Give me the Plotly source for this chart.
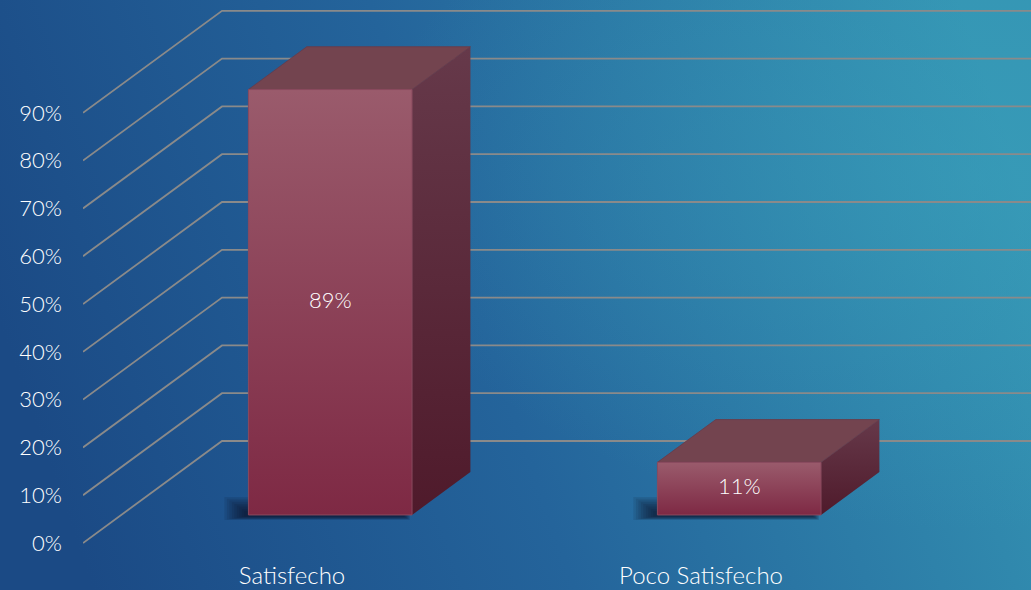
import base64
import plotly.graph_objects as go

# ---- data ----
categories = ["Satisfecho", "Poco Satisfecho"]
values = [89, 11]
value_labels = ["89%", "11%"]
tick_values = [0, 10, 20, 30, 40, 50, 60, 70, 80, 90]
tick_labels = ["0%", "10%", "20%", "30%", "40%", "50%", "60%", "70%", "80%", "90%"]

# ---- geometry (oblique projection in data units) ----
W, H = 1031, 590
ML, MB = 83, 32
PX_X = 409.0          # px per category unit
X0 = 292.0            # px of category 0 at front plane
PX_Y = 4.78           # px per percent
Y0 = 543.0            # px of 0% on front plane
DX = 139.0 / PX_X     # depth shift (x units) for full depth
DY = 102.0 / PX_Y     # depth shift (y units) for full depth
HALF = 0.2
D1, D2 = 0.275, 0.695

plot_h = H - MB
x_rng = [(ML - X0) / PX_X, (W - X0) / PX_X]
y_rng = [(Y0 - plot_h) / PX_Y, Y0 / PX_Y]
x_wall_front = x_rng[0]
x_wall_back = x_wall_front + DX

font = "Lato, 'Open Sans', sans-serif"

fig = go.Figure()

# gridlines (front wall -> back wall -> right edge)
gx, gy = [], []
for v in tick_values:
    gx += [x_wall_front, x_wall_back, x_rng[1] + 0.05, None]
    gy += [v, v + DY, v + DY, None]
fig.add_trace(go.Scatter(x=gx, y=gy, mode="lines", line=dict(color="#8a8a8a", width=1.8),
                         hoverinfo="skip", showlegend=False, cliponaxis=False))

for i, (cat, v) in enumerate(zip(categories, values)):
    xl, xr = i - HALF, i + HALF
    base = D1 * DY
    fxl = xl + D1 * DX
    fxr = xr + D1 * DX
    # soft shadow at the front-left bottom edge (many faint layers)
    n = 9
    for k in range(n):
        t = k / (n - 1)
        left_px = 24 - 20 * t
        drop_px = 5.0 - 3.5 * t
        top_px = 18 - 14 * t
        right_px = 2 + 6 * t
        sx = [fxl - left_px / PX_X, fxr - right_px / PX_X, fxr - right_px / PX_X, fxl - left_px / PX_X]
        sy = [base - drop_px / PX_Y, base - drop_px / PX_Y, base + top_px / PX_Y, base + top_px / PX_Y]
        fig.add_trace(go.Scatter(x=sx + [sx[0]], y=sy + [sy[0]], fill="toself", mode="lines",
                                 line=dict(width=0), fillcolor="rgba(6,14,26,0.10)",
                                 hoverinfo="skip", showlegend=False))
    # side face
    fx = [xr + D1 * DX, xr + D2 * DX, xr + D2 * DX, xr + D1 * DX, xr + D1 * DX]
    fy = [D1 * DY, D2 * DY, v + D2 * DY, v + D1 * DY, D1 * DY]
    fig.add_trace(go.Scatter(x=fx, y=fy, fill="toself", mode="lines", line=dict(width=0),
                             fillgradient=dict(type="vertical",
                                               colorscale=[[0, "#4f1a2b"], [1, "#66394a"]],
                                               start=D1 * DY, stop=v + D2 * DY),
                             hoverinfo="skip", showlegend=False))
    # top face
    tx = [xl + D1 * DX, xr + D1 * DX, xr + D2 * DX, xl + D2 * DX, xl + D1 * DX]
    ty = [v + D1 * DY, v + D1 * DY, v + D2 * DY, v + D2 * DY, v + D1 * DY]
    fig.add_trace(go.Scatter(x=tx, y=ty, fill="toself", mode="lines",
                             line=dict(width=0.8, color="#6a3a48"), fillcolor="#73444f",
                             hoverinfo="skip", showlegend=False))
    # front face
    bx = [fxl, fxr, fxr, fxl, fxl]
    by = [base, base, v + base, v + base, base]
    fig.add_trace(go.Scatter(x=bx, y=by, fill="toself", mode="lines",
                             line=dict(width=1, color="#8a4a5e"),
                             fillgradient=dict(type="vertical",
                                               colorscale=[[0, "#7e2944"], [1, "#9a5b6c"]],
                                               start=base, stop=v + base),
                             hoverinfo="skip", showlegend=False))

# value labels
fig.add_trace(go.Scatter(x=[i + D1 * DX for i in range(len(values))],
                         y=[v / 2 + D1 * DY for v in values],
                         text=value_labels, mode="text",
                         textfont=dict(color="#ffffff", size=22, family=font, weight=300),
                         hoverinfo="skip", showlegend=False))

# background gradient
svg = f'''<svg xmlns="http://www.w3.org/2000/svg" width="{W}" height="{H}" viewBox="0 0 {W} {H}" preserveAspectRatio="none">
<defs>
<linearGradient id="g" x1="0" y1="0.55" x2="1" y2="0.35">
<stop offset="0" stop-color="#1b4a85"/>
<stop offset="0.45" stop-color="#24649b"/>
<stop offset="1" stop-color="#3494b3"/>
</linearGradient>
<radialGradient id="r" cx="0.95" cy="0.3" r="0.6">
<stop offset="0" stop-color="#3aa0bb" stop-opacity="0.5"/>
<stop offset="1" stop-color="#3aa0bb" stop-opacity="0"/>
</radialGradient>
</defs>
<rect width="{W}" height="{H}" fill="url(#g)"/>
<rect width="{W}" height="{H}" fill="url(#r)"/>
</svg>'''
src = "data:image/svg+xml;base64," + base64.b64encode(svg.encode()).decode()
plot_w = W - ML
fig.add_layout_image(dict(source=src, xref="paper", yref="paper",
                          x=-ML / plot_w, y=1, sizex=W / plot_w, sizey=H / plot_h,
                          xanchor="left", yanchor="top", sizing="stretch", layer="below"))

fig.update_layout(
    width=W, height=H,
    margin=dict(l=ML, r=0, t=0, b=MB, pad=0),
    paper_bgcolor="#24639a", plot_bgcolor="rgba(0,0,0,0)",
    showlegend=False,
    xaxis=dict(range=x_rng, tickvals=list(range(len(categories))), ticktext=categories,
               showgrid=False, zeroline=False, showline=False, ticks="",
               tickfont=dict(color="#ffffff", size=24, family=font, weight=300),
               ticklabelstandoff=1, fixedrange=True),
    yaxis=dict(range=y_rng, tickvals=tick_values, ticktext=tick_labels,
               showgrid=False, zeroline=False, showline=False, ticks="",
               tickfont=dict(color="#ffffff", size=22, family=font, weight=300),
               ticklabelstandoff=20, fixedrange=True),
)

fig.write_html("out.html", config={"displayModeBar": False},
               post_script="document.body.style.margin='0';document.body.style.overflow='hidden';")
